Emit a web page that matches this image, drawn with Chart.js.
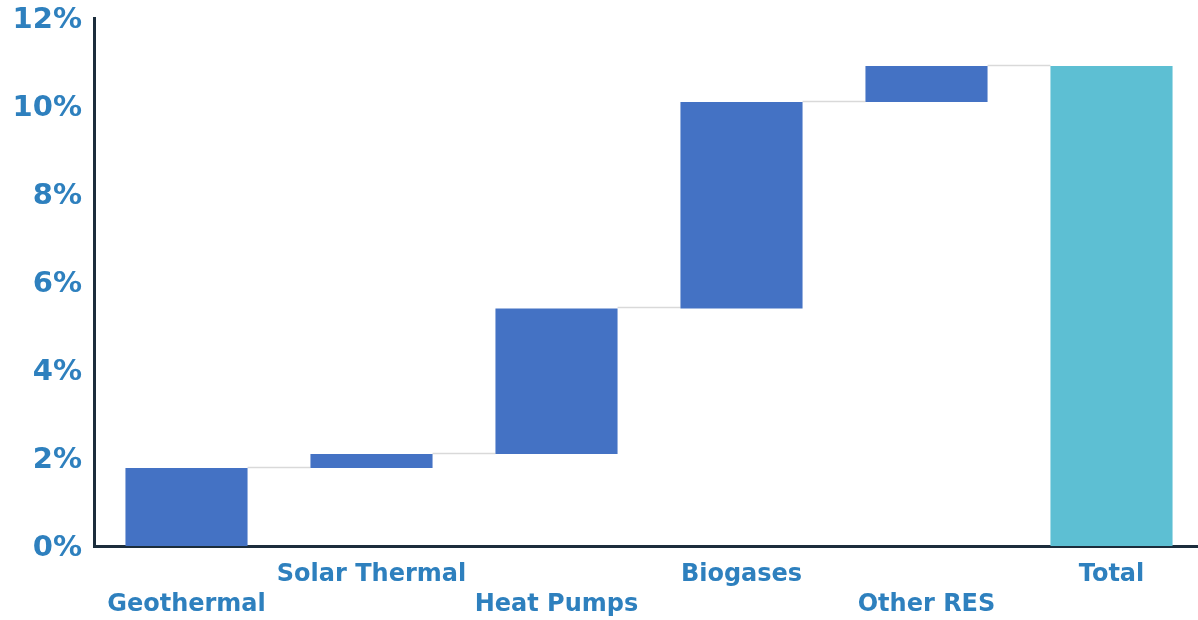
<!DOCTYPE html>
<html>
<head>
  <title>RES share waterfall</title>
  <script src="https://cdn.jsdelivr.net/npm/chart.js"></script>
  <style>
    body { margin: 0; background-color: #ffffff; overflow: hidden; }
    #wrap { width: 1204px; height: 620px; }
  </style>
</head>
<body>
  <div id="wrap"><canvas id="waterfall"></canvas></div>

  <script>
    // values (percent)
    const categories = ['Geothermal', 'Solar Thermal', 'Heat Pumps', 'Biogases', 'Other RES', 'Total'];
    const steps = [1.77, 0.32, 3.31, 4.69, 0.82];
    const totalValue = 10.91;
    const yTicks = [0, 2, 4, 6, 8, 10, 12];

    const stepColor = '#4472C4';
    const totalColor = '#5DBFD3';
    const textColor = '#2E80BE';
    const axisColor = '#1C2D3C';

    // build floating ranges for the waterfall
    const ranges = [];
    let running = 0;
    steps.forEach(s => {
      ranges.push([running, running + s]);
      running += s;
    });
    ranges.push([0, totalValue]);

    const barColors = categories.map((c, i) => i === categories.length - 1 ? totalColor : stepColor);

    // thin grey connectors between neighbouring bars
    const connectors = {
      id: 'connectors',
      beforeDatasetsDraw(chart) {
        const ctx = chart.ctx;
        const meta = chart.getDatasetMeta(0);
        const y = chart.scales.y;
        ctx.save();
        ctx.strokeStyle = '#D9D9D9';
        ctx.lineWidth = 1.5;
        for (let i = 0; i < meta.data.length - 1; i++) {
          const a = meta.data[i];
          const b = meta.data[i + 1];
          const py = Math.round(y.getPixelForValue(ranges[i][1])) - 0.5;
          ctx.beginPath();
          ctx.moveTo(a.x + a.width / 2, py);
          ctx.lineTo(b.x - b.width / 2, py);
          ctx.stroke();
        }
        ctx.restore();
      }
    };

    new Chart(document.getElementById('waterfall'), {
      type: 'bar',
      data: {
        labels: categories,
        datasets: [{
          data: ranges,
          backgroundColor: barColors,
          borderWidth: 0,
          barPercentage: 0.66,
          categoryPercentage: 1
        }]
      },
      options: {
        responsive: true,
        maintainAspectRatio: false,
        animation: false,
        layout: { padding: { top: 18, right: 0, bottom: 0, left: 0 } },
        plugins: {
          legend: { display: false },
          tooltip: { enabled: false }
        },
        scales: {
          x: {
            afterFit: axis => { axis.height = 74; },
            grid: { display: false, drawTicks: false },
            border: { display: true, color: axisColor, width: 3 },
            ticks: {
              color: textColor,
              padding: 14,
              maxRotation: 0,
              autoSkip: false,
              font: { family: 'DejaVu Sans', weight: 'bold', size: 24, lineHeight: 1.25 },
              callback: function (value, index) {
                const name = categories[index];
                return index % 2 === 0 ? ['', name] : [name, ''];
              }
            }
          },
          y: {
            min: 0,
            max: 12,
            afterBuildTicks: axis => { axis.ticks = yTicks.map(v => ({ value: v })); },
            afterFit: axis => {
              axis.width = 94;
              axis.paddingTop = 0;
              axis.paddingBottom = 0;
            },
            grid: { display: false, drawTicks: false },
            border: { display: true, color: axisColor, width: 3 },
            ticks: {
              color: textColor,
              padding: 12,
              labelOffset: 2,
              font: { family: 'DejaVu Sans', weight: 'bold', size: 29 },
              callback: v => v + '%'
            }
          }
        }
      },
      plugins: [connectors]
    });
  </script>
</body>
</html>
